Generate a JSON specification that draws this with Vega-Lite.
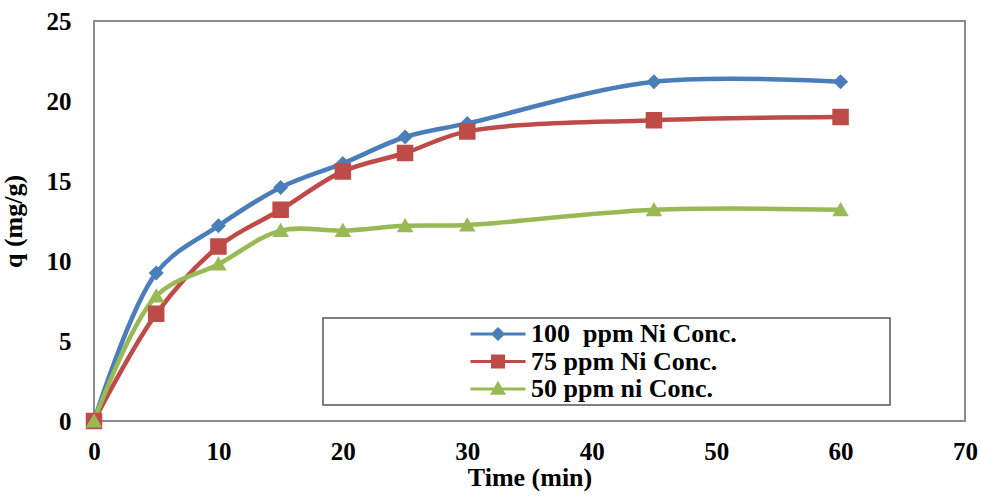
{
  "$schema": "https://vega.github.io/schema/vega-lite/v6.json",
  "width": 871,
  "height": 400,
  "autosize": {"type": "none"},
  "padding": {"left": 94, "top": 21, "right": 16, "bottom": 77},
  "background": "white",
  "data": {
    "values": [
      {"time": 0, "q": 0, "series": "100\u00a0 ppm Ni Conc."},
      {"time": 5, "q": 9.25, "series": "100\u00a0 ppm Ni Conc."},
      {"time": 10, "q": 12.2, "series": "100\u00a0 ppm Ni Conc."},
      {"time": 15, "q": 14.6, "series": "100\u00a0 ppm Ni Conc."},
      {"time": 20, "q": 16.1, "series": "100\u00a0 ppm Ni Conc."},
      {"time": 25, "q": 17.75, "series": "100\u00a0 ppm Ni Conc."},
      {"time": 30, "q": 18.6, "series": "100\u00a0 ppm Ni Conc."},
      {"time": 45, "q": 21.2, "series": "100\u00a0 ppm Ni Conc."},
      {"time": 60, "q": 21.2, "series": "100\u00a0 ppm Ni Conc."},
      {"time": 0, "q": 0, "series": "75 ppm Ni Conc."},
      {"time": 5, "q": 6.7, "series": "75 ppm Ni Conc."},
      {"time": 10, "q": 10.9, "series": "75 ppm Ni Conc."},
      {"time": 15, "q": 13.2, "series": "75 ppm Ni Conc."},
      {"time": 20, "q": 15.6, "series": "75 ppm Ni Conc."},
      {"time": 25, "q": 16.75, "series": "75 ppm Ni Conc."},
      {"time": 30, "q": 18.1, "series": "75 ppm Ni Conc."},
      {"time": 45, "q": 18.8, "series": "75 ppm Ni Conc."},
      {"time": 60, "q": 19.0, "series": "75 ppm Ni Conc."},
      {"time": 0, "q": 0, "series": "50 ppm ni Conc."},
      {"time": 5, "q": 7.8, "series": "50 ppm ni Conc."},
      {"time": 10, "q": 9.8, "series": "50 ppm ni Conc."},
      {"time": 15, "q": 11.9, "series": "50 ppm ni Conc."},
      {"time": 20, "q": 11.9, "series": "50 ppm ni Conc."},
      {"time": 25, "q": 12.2, "series": "50 ppm ni Conc."},
      {"time": 30, "q": 12.25, "series": "50 ppm ni Conc."},
      {"time": 45, "q": 13.2, "series": "50 ppm ni Conc."},
      {"time": 60, "q": 13.2, "series": "50 ppm ni Conc."}
    ]
  },
  "encoding": {
    "x": {
      "field": "time", "type": "quantitative",
      "scale": {"domain": [0, 70], "nice": false, "zero": false},
      "axis": {"values": [0, 10, 20, 30, 40, 50, 60, 70], "title": "Time (min)", "labelPadding": 18, "titlePadding": 0, "labelFlush": false}
    },
    "y": {
      "field": "q", "type": "quantitative",
      "scale": {"domain": [0, 25], "nice": false},
      "axis": {"values": [0, 5, 10, 15, 20, 25], "title": "q (mg/g)", "labelPadding": 23, "titlePadding": 20, "labelFlush": false}
    },
    "color": {
      "field": "series", "type": "nominal",
      "scale": {
        "domain": ["100\u00a0 ppm Ni Conc.", "75 ppm Ni Conc.", "50 ppm ni Conc."],
        "range": ["#4a7ebb", "#be4b48", "#98b954"]
      },
      "legend": {
        "orient": "none", "legendX": 229, "legendY": 297,
        "title": " ", "titleOrient": "left", "titleFontSize": 10, "titlePadding": 144.5,
        "padding": 3, "strokeColor": "#555555", "fillColor": "white",
        "symbolSize": 100, "symbolOffset": 14.5, "labelOffset": 20, "rowPadding": 1.5,
        "symbolStrokeWidth": 3, "symbolOpacity": 1,
        "labelFont": "Liberation Serif", "labelFontSize": 26, "labelFontWeight": "bold", "labelColor": "black", "labelLimit": 1000,
        "labelExpr": "datum.label + '\u00a0\u00a0\u00a0\u00a0\u00a0\u00a0\u00a0\u00a0\u00a0\u00a0\u00a0\u00a0\u00a0\u00a0\u00a0\u00a0\u00a0\u00a0\u00a0\u00a0\u00a0\u00a0\u00a0\u200b'"
      }
    }
  },
  "layer": [
    {"mark": {"type": "line", "interpolate": "catmull-rom", "strokeWidth": 4.5}},
    {
      "mark": {"type": "point", "filled": true, "opacity": 1, "size": 225, "strokeWidth": 0},
      "encoding": {
        "stroke": {
          "field": "series", "type": "nominal",
          "scale": {
            "domain": ["100\u00a0 ppm Ni Conc.", "75 ppm Ni Conc.", "50 ppm ni Conc."],
            "range": ["#4a7ebb", "#be4b48", "#98b954"]
          }
        },
        "shape": {
          "field": "series", "type": "nominal",
          "scale": {
            "domain": ["100\u00a0 ppm Ni Conc.", "75 ppm Ni Conc.", "50 ppm ni Conc."],
            "range": [
              "M-5.5,0H5.5M0,-1L1,0L0,1L-1,0Z",
              "M-5.5,0H5.5M-1.1,-1.1H1.1V1.1H-1.1Z",
              "M-5.5,0H5.5M0,-1.05L1.1,0.85L-1.1,0.85Z"
            ]
          }
        }
      }
    }
  ],
  "config": {
    "view": {"stroke": "#8c8c8c", "strokeWidth": 2},
    "axis": {
      "domain": false, "ticks": false, "grid": false,
      "labelFont": "Liberation Serif", "labelFontSize": 25, "labelFontWeight": "bold", "labelColor": "black",
      "titleFont": "Liberation Serif", "titleFontSize": 26, "titleFontWeight": "bold", "titleColor": "black"
    },
    "legend": {"strokeWidth": 1.5}
  }
}
